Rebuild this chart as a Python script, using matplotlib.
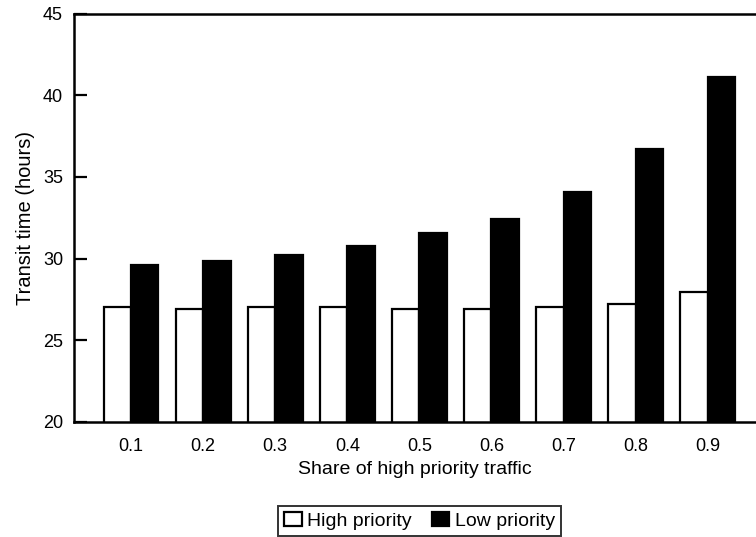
import matplotlib
matplotlib.use("Agg")
import matplotlib.pyplot as plt
import numpy as np

plt.rcParams['font.family'] = ['Liberation Sans', 'DejaVu Sans']

categories = ["0.1", "0.2", "0.3", "0.4", "0.5", "0.6", "0.7", "0.8", "0.9"]
high_priority = [27.0, 26.9, 27.0, 27.0, 26.9, 26.9, 27.0, 27.2, 27.95]
low_priority = [29.6, 29.85, 30.2, 30.75, 31.55, 32.4, 34.05, 36.7, 41.15]

fig = plt.figure(figsize=(7.56, 5.37), dpi=100)
ax = fig.add_axes([0.098, 0.215, 0.902, 0.759])

x = np.arange(len(categories))
w = 0.38
ax.bar(x - w / 2, high_priority, w, color='white', edgecolor='black', linewidth=1.6, label='High priority')
ax.bar(x + w / 2, low_priority, w, color='black', edgecolor='black', linewidth=1.6, label='Low priority')

ax.set_ylim(20, 45)
ax.set_xlim(-0.79, 8.67)
ax.set_yticks([20, 25, 30, 35, 40, 45])
ax.set_xticks(x)
ax.set_xticklabels(categories)
ax.tick_params(axis='y', direction='in', length=9, width=1.6, labelsize=13, pad=8)
ax.tick_params(axis='x', length=0, labelsize=13, pad=12)
for s in ['left', 'top', 'bottom']:
    ax.spines[s].set_linewidth(1.8)
ax.spines['right'].set_visible(False)

ax.set_ylabel('Transit time (hours)', fontsize=14.5, labelpad=6)
ax.set_xlabel('Share of high priority traffic', fontsize=14, labelpad=4)

leg = fig.legend(loc='center', bbox_to_anchor=(0.555, 0.03), ncol=2, fontsize=14,
                 frameon=True, fancybox=False, edgecolor='black', handlelength=0.9,
                 handleheight=0.7, handletextpad=0.3, columnspacing=1.0, borderpad=0.3)
leg.get_frame().set_linewidth(1.4)

fig.savefig('out.png', dpi=100)
